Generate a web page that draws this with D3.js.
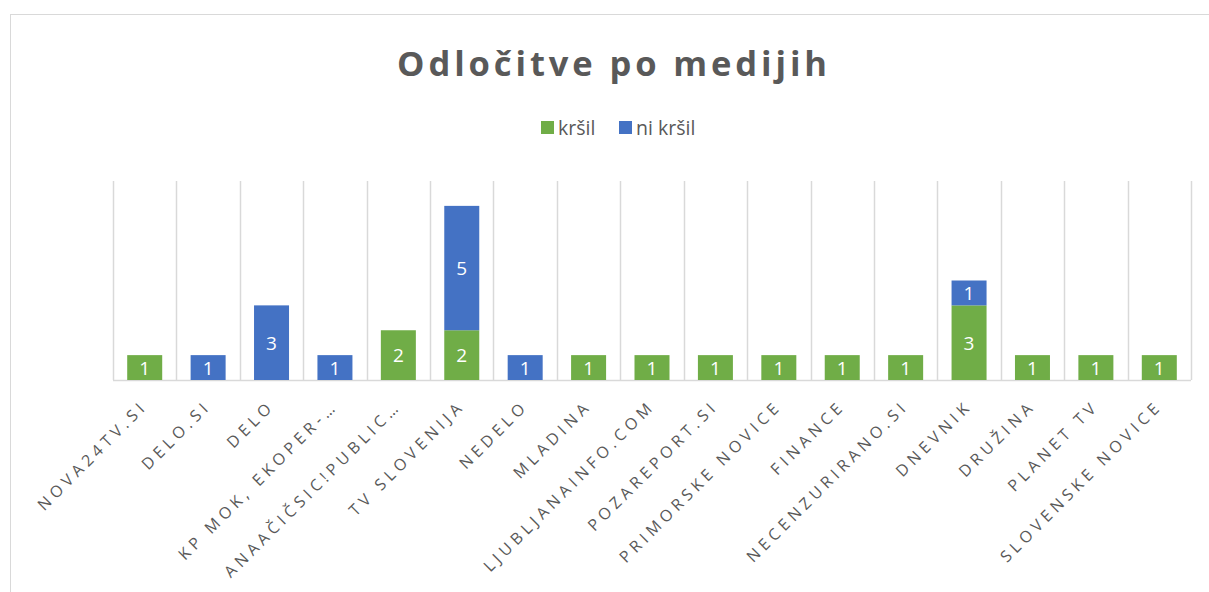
<!DOCTYPE html>
<html>
<head>
<meta charset="utf-8">
<script src="https://cdn.jsdelivr.net/npm/d3@7"></script>
<style>
  body { margin: 0; background: #fff; }
  text { font-family: "Open Sans", "Noto Sans", sans-serif; }
</style>
</head>
<body>
<div id="chart"></div>
<script>
// data
const categories = ["NOVA24TV.SI", "DELO.SI", "DELO", "KP MOK, EKOPER-…", "ANAAČIČSIC!PUBLIC…",
  "TV SLOVENIJA", "NEDELO", "MLADINA", "LJUBLJANAINFO.COM", "POZAREPORT.SI", "PRIMORSKE NOVICE",
  "FINANCE", "NECENZURIRANO.SI", "DNEVNIK", "DRUŽINA", "PLANET TV", "SLOVENSKE NOVICE"]
const krsil =   [1, 0, 0, 0, 2, 2, 0, 1, 1, 1, 1, 1, 1, 3, 1, 1, 1]
const niKrsil = [0, 1, 3, 1, 0, 5, 1, 0, 0, 0, 0, 0, 0, 1, 0, 0, 0]
const seriesNames = ["kršil", "ni kršil"]
const colors = ["#70AD47", "#4472C4"]

const width = 1209
const height = 592
const margin = {left: 113, right: 18, top: 181, bottom: 212}

const svg = d3.select("#chart").append("svg").attr("width", width).attr("height", height)

// chart border (runs off the right and bottom edges)
svg.append("rect")
  .attr("x", 10.5).attr("y", 14.5)
  .attr("width", width).attr("height", height)
  .attr("fill", "#fff").attr("stroke", "#D9D9D9")

const xscale = d3.scaleBand()
  .domain(categories)
  .range([margin.left, width - margin.right])
  .paddingInner(0).paddingOuter(0)

const yscale = d3.scaleLinear()
  .domain([0, 8])
  .range([height - margin.bottom, margin.top])

// vertical gridlines at category boundaries
const bounds = categories.map(c => xscale(c)).concat([xscale.range()[1]])
svg.append("g")
  .selectAll("line")
  .data(bounds)
  .join("line")
  .attr("x1", d => Math.round(d) + 0.5).attr("x2", d => Math.round(d) + 0.5)
  .attr("y1", yscale(8)).attr("y2", yscale(0))
  .attr("stroke", "#D9D9D9").attr("stroke-width", 1.5)

// baseline
svg.append("line")
  .attr("x1", xscale.range()[0]).attr("x2", xscale.range()[1])
  .attr("y1", yscale(0) + 0.5).attr("y2", yscale(0) + 0.5)
  .attr("stroke", "#D9D9D9").attr("stroke-width", 1.5)

// stack
const rows = categories.map((c, i) => ({cat: c, "kršil": krsil[i], "ni kršil": niKrsil[i]}))
const stacked = d3.stack().keys(seriesNames)(rows)

const barW = 35
const layers = svg.append("g")
  .selectAll("g")
  .data(stacked)
  .join("g")
  .attr("fill", (d, i) => colors[i])

layers.selectAll("rect")
  .data(d => d.filter(p => p[1] > p[0]))
  .join("rect")
  .attr("x", d => xscale(d.data.cat) + xscale.bandwidth() / 2 - barW / 2)
  .attr("width", barW)
  .attr("y", d => yscale(d[1]))
  .attr("height", d => yscale(d[0]) - yscale(d[1]))

layers.selectAll("text")
  .data(d => d.filter(p => p[1] > p[0]))
  .join("text")
  .attr("x", d => xscale(d.data.cat) + xscale.bandwidth() / 2)
  .attr("y", d => (yscale(d[0]) + yscale(d[1])) / 2 + 7)
  .attr("text-anchor", "middle")
  .attr("fill", "#fff")
  .attr("font-size", 19)
  .text(d => d[1] - d[0])

// category labels
svg.append("g")
  .selectAll("text")
  .data(categories)
  .join("text")
  .attr("transform", d => `translate(${xscale(d) + xscale.bandwidth() / 2 + 4},${yscale(0) + 27}) rotate(-45)`)
  .attr("text-anchor", "end")
  .attr("fill", "#595959")
  .attr("font-size", 16)
  .attr("letter-spacing", 4.5)
  .text(d => d)

// title
svg.append("text")
  .attr("x", 614).attr("y", 76)
  .attr("text-anchor", "middle")
  .attr("fill", "#595959")
  .attr("font-size", 34.5)
  .attr("font-weight", "bold")
  .attr("letter-spacing", 3.9)
  .text("Odločitve po medijih")

// legend
const legend = svg.append("g")
  .selectAll("g")
  .data(seriesNames)
  .join("g")
  .attr("transform", (d, i) => `translate(${[541, 619][i]},121)`)
legend.append("rect").attr("width", 13).attr("height", 13).attr("fill", (d, i) => colors[i])
legend.append("text")
  .attr("x", 17).attr("y", 14)
  .attr("fill", "#595959")
  .attr("font-size", 19.5)
  .text(d => d)
</script>
</body>
</html>
